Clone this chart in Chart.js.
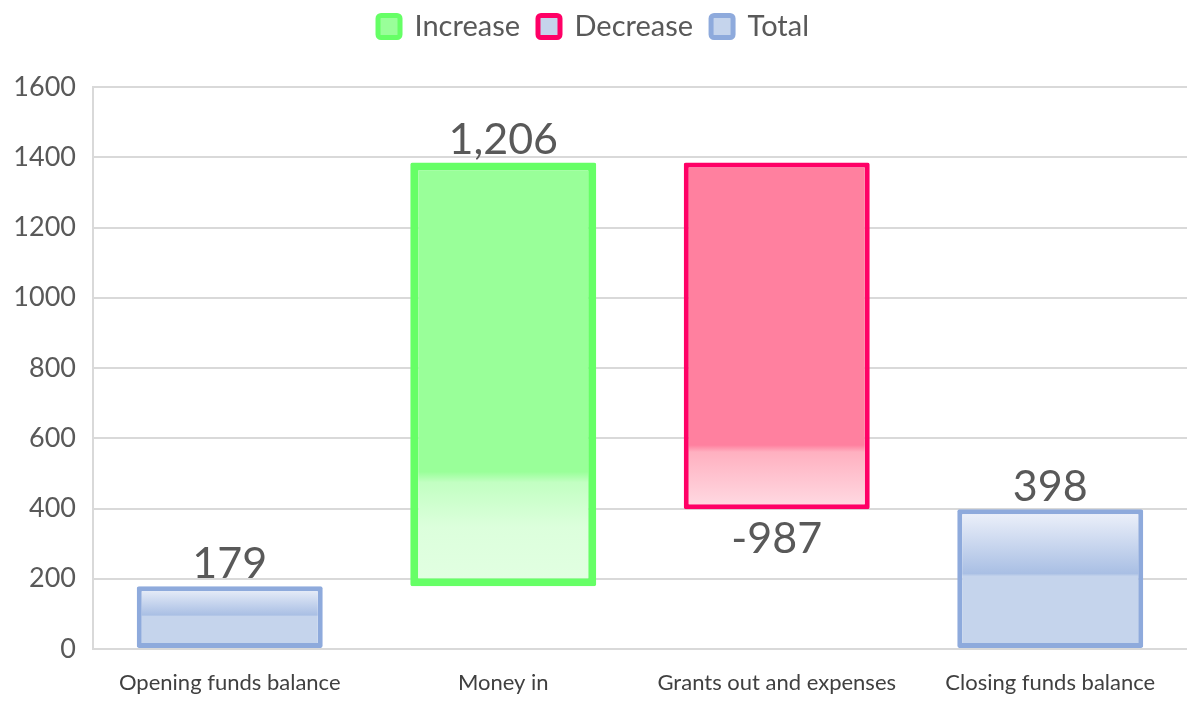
<!DOCTYPE html>
<html><head><meta charset="utf-8">
<script src="https://cdn.jsdelivr.net/npm/chart.js@4/dist/chart.umd.min.js"></script>
<style>html,body{margin:0;padding:0;background:#fff}#wrap{width:1192px;height:706px}</style>
</head><body><div id="wrap"><canvas id="c" width="1192" height="706"></canvas></div>
<script>
const categories = ["Opening funds balance", "Money in", "Grants out and expenses", "Closing funds balance"];
const values = [179, 1206, -987, 398];
const kinds = ["total", "increase", "decrease", "total"];
const labels = ["179", "1,206", "-987", "398"];
const yTicks = [0, 200, 400, 600, 800, 1000, 1200, 1400, 1600];

// floating ranges derived from values
let running = 0;
const ranges = values.map((v, i) => {
  if (kinds[i] === "total") { running = v; return [0, v]; }
  const r = [running, running + v]; running += v; return r;
});
function seriesFor(kind) { return ranges.map((r, i) => kinds[i] === kind ? r : null); }

const FONT = "Lato, 'Open Sans', sans-serif";

const styles = {
  increase: { border: "#66ff66", fallback: "#99ff99", width: 8,
    stops: [[0, "#99ff99"], [0.73, "#99ff99"], [0.755, "#c2ffc2"], [0.86, "#dcffdc"], [1, "#e2ffe2"]] },
  decrease: { border: "#ff0066", fallback: "#ff809f", width: 5,
    stops: [[0, "#ff809f"], [0.815, "#ff809f"], [0.835, "#ffb0c0"], [1, "#ffdce4"]] },
  total: { border: "#8eaadc", fallback: "#c5d4ec", width: 5,
    stops: [[0, "#f0f3fb"], [0.46, "#a9bfe4"], [0.48, "#c5d4ec"], [1, "#c5d4ec"]] }
};

function bg(kind) {
  return (c) => {
    const chart = c.chart, s = styles[kind];
    if (!chart.chartArea || !c.raw) return s.fallback;
    const y = chart.scales.y;
    const top = y.getPixelForValue(Math.max(c.raw[0], c.raw[1]));
    const bot = y.getPixelForValue(Math.min(c.raw[0], c.raw[1]));
    const g = chart.ctx.createLinearGradient(0, top, 0, bot);
    s.stops.forEach(([o, col]) => g.addColorStop(o, col));
    return g;
  };
}

function ds(label, kind) {
  const s = styles[kind];
  return {
    label, data: seriesFor(kind), backgroundColor: bg(kind), borderColor: s.border,
    borderWidth: s.width, borderSkipped: false, borderRadius: 2,
    barPercentage: 0.68, categoryPercentage: 1, grouped: false
  };
}

const valueLabels = {
  id: "valueLabels",
  afterDatasetsDraw(chart) {
    const ctx = chart.ctx;
    ctx.save();
    ctx.font = "43px " + FONT;
    ctx.fillStyle = "#595959";
    ctx.textAlign = "center";
    chart.data.datasets.forEach((d, di) => {
      const meta = chart.getDatasetMeta(di);
      meta.data.forEach((el, i) => {
        if (!d.data[i]) return;
        if (values[i] < 0) {
          ctx.textBaseline = "top";
          ctx.fillText(labels[i], el.x, el.base + 8);
        } else {
          ctx.textBaseline = "bottom";
          ctx.fillText(labels[i], el.x, Math.min(el.y, el.base) - 1);
        }
      });
    });
    ctx.restore();
  }
};

const legendHeight = {
  id: "legendHeight",
  beforeInit(chart) {
    const lg = chart.legend;
    const orig = lg.fit;
    lg.fit = function () { orig.call(this); this.height = 93; };
  }
};

const legendFill = { increase: "#99ff99", decrease: "#c5d4ec", total: "#c5d4ec" };

new Chart(document.getElementById("c"), {
  type: "bar",
  data: {
    labels: categories,
    datasets: [ds("Increase", "increase"), ds("Decrease", "decrease"), ds("Total", "total")]
  },
  options: {
    responsive: false, animation: false,
    layout: { padding: { left: 0, right: 5, top: -6, bottom: 0 } },
    plugins: {
      tooltip: { enabled: false },
      legend: {
        position: "top",
        labels: {
          font: { size: 29, family: FONT },
          color: "#595959", boxWidth: 22, boxHeight: 22, padding: 18, useBorderRadius: true,
          generateLabels(chart) {
            const keys = ["increase", "decrease", "total"];
            return chart.data.datasets.map((d, i) => ({
              text: d.label, fillStyle: legendFill[keys[i]], strokeStyle: styles[keys[i]].border,
              lineWidth: 5, datasetIndex: i, hidden: false, borderRadius: 3, fontColor: "#595959"
            }));
          }
        }
      }
    },
    scales: {
      x: {
        afterFit(scale) { scale.height = 57; },
        grid: { display: false, drawTicks: false },
        border: { display: false },
        ticks: { color: "#404040", font: { size: 22, family: FONT }, padding: 21, maxRotation: 0 }
      },
      y: {
        min: 0, max: 1600,
        afterFit(scale) { scale.width = 93; },
        afterBuildTicks(axis) { axis.ticks = yTicks.map(v => ({ value: v })); },
        grid: { color: "#d9d9d9", lineWidth: 2, drawTicks: false },
        border: { display: true, color: "#d9d9d9", width: 2 },
        ticks: { color: "#595959", font: { size: 27, family: FONT }, padding: 17, callback: v => String(v) }
      }
    }
  },
  plugins: [valueLabels, legendHeight]
});
</script></body></html>
